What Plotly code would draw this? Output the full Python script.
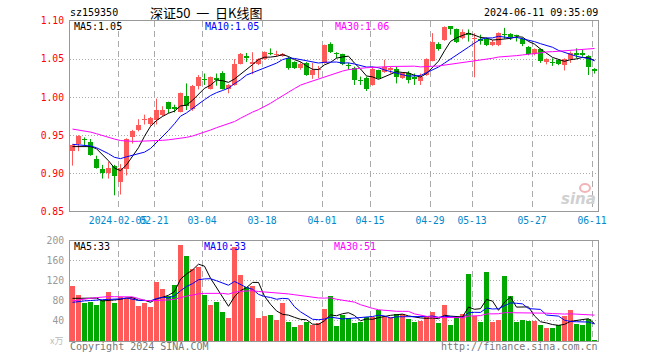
import numpy as np
import plotly.graph_objects as go

# ---------------- data ----------------
dates = (
    ["2024-01-24", "2024-01-25", "2024-01-26", "2024-01-29", "2024-01-30", "2024-01-31"]
    + ["2024-02-01", "2024-02-02", "2024-02-05", "2024-02-06", "2024-02-07", "2024-02-08",
       "2024-02-19", "2024-02-20", "2024-02-21", "2024-02-22", "2024-02-23", "2024-02-26",
       "2024-02-27", "2024-02-28", "2024-02-29"]
    + ["2024-03-01", "2024-03-04", "2024-03-05", "2024-03-06", "2024-03-07", "2024-03-08",
       "2024-03-11", "2024-03-12", "2024-03-13", "2024-03-14", "2024-03-15", "2024-03-18",
       "2024-03-19", "2024-03-20", "2024-03-21", "2024-03-22", "2024-03-25", "2024-03-26",
       "2024-03-27", "2024-03-28", "2024-03-29"]
    + ["2024-04-01", "2024-04-02", "2024-04-03", "2024-04-08", "2024-04-09", "2024-04-10",
       "2024-04-11", "2024-04-12", "2024-04-15", "2024-04-16", "2024-04-17", "2024-04-18",
       "2024-04-19", "2024-04-22", "2024-04-23", "2024-04-24", "2024-04-25", "2024-04-26",
       "2024-04-29", "2024-04-30"]
    + ["2024-05-06", "2024-05-07", "2024-05-08", "2024-05-09", "2024-05-10", "2024-05-13",
       "2024-05-14", "2024-05-15", "2024-05-16", "2024-05-17", "2024-05-20", "2024-05-21",
       "2024-05-22", "2024-05-23", "2024-05-24", "2024-05-27", "2024-05-28", "2024-05-29",
       "2024-05-30", "2024-05-31"]
    + ["2024-06-03", "2024-06-04", "2024-06-05", "2024-06-06", "2024-06-07", "2024-06-11"]
)

tick_dates = ["2024-02-05", "2024-02-21", "2024-03-04", "2024-03-18", "2024-04-01",
              "2024-04-15", "2024-04-29", "2024-05-13", "2024-05-27", "2024-06-11"]
tick_labels = ["2024-02-05", "02-21", "03-04", "03-18", "04-01",
               "04-15", "04-29", "05-13", "05-27", "06-11"]

open_ = [0.929, 0.939, 0.945, 0.941, 0.919, 0.906, 0.900, 0.910, 0.888, 0.905,
         0.947, 0.957, 0.970, 0.965, 0.970, 0.977, 0.994, 0.986, 0.981, 1.002,
         0.984, 1.015, 1.023, 1.011, 1.025, 1.032, 1.011, 1.016, 1.044, 1.054,
         1.043, 1.044, 1.050, 1.058, 1.055, 1.054, 1.051, 1.046, 1.038, 1.045,
         1.029, 1.035, 1.045, 1.070, 1.058, 1.056, 1.042, 1.038, 1.022, 1.025,
         1.016, 1.035, 1.033, 1.035, 1.037, 1.025, 1.032, 1.027, 1.021, 1.029,
         1.048, 1.070, 1.075, 1.093, 1.089, 1.078, 1.084, 1.076, 1.076, 1.077,
         1.069, 1.068, 1.083, 1.083, 1.081, 1.077, 1.066, 1.056, 1.063, 1.046,
         1.046, 1.049, 1.042, 1.050, 1.058, 1.058, 1.054, 1.037]
high = [0.938, 0.950, 0.947, 0.945, 0.923, 0.911, 0.915, 0.911, 0.912, 0.946,
        0.957, 0.971, 0.977, 0.974, 0.998, 0.988, 0.994, 0.990, 1.006, 1.018,
        1.016, 1.029, 1.031, 1.027, 1.031, 1.034, 1.017, 1.050, 1.058, 1.058,
        1.059, 1.051, 1.060, 1.064, 1.061, 1.058, 1.053, 1.047, 1.046, 1.046,
        1.045, 1.041, 1.069, 1.072, 1.059, 1.057, 1.045, 1.040, 1.027, 1.027,
        1.040, 1.036, 1.049, 1.040, 1.040, 1.033, 1.034, 1.031, 1.031, 1.051,
        1.084, 1.072, 1.093, 1.093, 1.090, 1.089, 1.089, 1.084, 1.082, 1.078,
        1.075, 1.085, 1.091, 1.084, 1.082, 1.078, 1.067, 1.064, 1.064, 1.051,
        1.051, 1.050, 1.051, 1.060, 1.064, 1.063, 1.055, 1.038]
low = [0.910, 0.929, 0.937, 0.923, 0.906, 0.893, 0.893, 0.871, 0.872, 0.897,
       0.939, 0.955, 0.964, 0.962, 0.964, 0.975, 0.979, 0.980, 0.980, 0.983,
       0.982, 1.010, 1.016, 1.010, 1.015, 1.010, 1.005, 1.015, 1.043, 1.046,
       1.030, 1.042, 1.049, 1.055, 1.053, 1.053, 1.036, 1.037, 1.036, 1.028,
       1.024, 1.025, 1.044, 1.058, 1.051, 1.042, 1.036, 1.016, 1.016, 1.008,
       1.015, 1.024, 1.032, 1.031, 1.018, 1.024, 1.018, 1.016, 1.016, 1.028,
       1.047, 1.061, 1.074, 1.082, 1.071, 1.076, 1.073, 1.026, 1.069, 1.067,
       1.067, 1.067, 1.077, 1.075, 1.073, 1.067, 1.055, 1.055, 1.045, 1.043,
       1.041, 1.042, 1.035, 1.045, 1.051, 1.053, 1.029, 1.031]
close = [0.937, 0.949, 0.944, 0.924, 0.907, 0.900, 0.907, 0.896, 0.907, 0.945,
         0.956, 0.964, 0.971, 0.972, 0.983, 0.983, 0.985, 0.985, 1.006, 0.988,
         1.015, 1.027, 1.022, 1.026, 1.022, 1.011, 1.016, 1.044, 1.056, 1.051,
         1.046, 1.050, 1.059, 1.057, 1.056, 1.057, 1.038, 1.038, 1.043, 1.029,
         1.035, 1.036, 1.069, 1.059, 1.057, 1.043, 1.041, 1.023, 1.021, 1.011,
         1.037, 1.025, 1.040, 1.038, 1.027, 1.032, 1.022, 1.024, 1.027, 1.050,
         1.072, 1.063, 1.092, 1.089, 1.073, 1.086, 1.081, 1.078, 1.074, 1.069,
         1.073, 1.084, 1.081, 1.079, 1.080, 1.070, 1.056, 1.063, 1.047, 1.050,
         1.045, 1.043, 1.050, 1.058, 1.055, 1.055, 1.040, 1.034]
volume = [110, 92, 76, 78, 72, 81, 98, 76, 88, 86,
          86, 70, 76, 68, 118, 104, 90, 112, 192, 170,
          144, 148, 92, 72, 78, 58, 46, 188, 132, 108,
          110, 46, 50, 52, 42, 76, 38, 28, 32, 38,
          32, 36, 64, 90, 30, 52, 46, 36, 38, 48,
          48, 62, 50, 48, 54, 54, 44, 38, 40, 50,
          58, 36, 72, 32, 46, 54, 134, 50, 38, 138,
          38, 42, 130, 90, 38, 42, 40, 40, 32, 26,
          26, 32, 50, 62, 34, 32, 44, 2]

# sessions before the window (estimated from where the MA lines start)
prior_close = [0.982, 0.978, 0.975, 0.972, 0.976, 0.970, 0.968, 0.965, 0.969, 0.964,
               0.961, 0.966, 0.964, 0.968, 0.972, 0.965, 0.962, 0.958, 0.963, 0.962,
               0.955, 0.948, 0.936, 0.930, 0.936, 0.949, 0.944, 0.924, 0.921]
prior_volume = [28, 30, 32, 34, 35, 80, 86, 90, 88, 90,
                170, 186, 92, 85, 88, 85, 80, 86, 82, 83,
                72, 66, 71, 70, 66, 92, 76, 78, 69]

price_ticks = [0.85, 0.90, 0.95, 1.00, 1.05, 1.10]
vol_ticks = [40, 80, 120, 160, 200]

price_ma_labels = ["MA5:1.05", "MA10:1.05", "MA30:1.06"]
vol_ma_labels = ["MA5:33", "MA10:33", "MA30:51"]

# ---------------- helpers ----------------
def moving_average(prior, vals, n):
    full = np.array(prior + vals, dtype=float)
    start = len(prior)
    return [float(full[k - n + 1:k + 1].mean()) for k in range(start, len(full))]

n = len(dates)
xs = list(range(n))
RED = "#ff5a5a"
GREEN = "#00a800"
MA_COLORS = ["#000000", "#0000ff", "#ff00ff"]
MA_N = [5, 10, 30]
MONO = "DejaVu Sans Mono"

# pixel geometry
L_PX, R_PX, T_PX, B_PX = 70, 598, 21, 341
def px_x(p):
    return (p - L_PX) / (R_PX - L_PX)
def px_y(p):
    return (B_PX - p) / (B_PX - T_PX)

price_dom = [px_y(211.3), 1.0]
vol_dom = [0.0, px_y(240.7)]

tick_pos = [dates.index(d) - 5 / 12 for d in tick_dates]
xrange = [-5 / 12, n - 1 + 7 / 12]

fig = go.Figure()

up = [c >= o for o, c in zip(open_, close)]
colors = [RED if u else GREEN for u in up]

# wicks (one line trace per colour, segments separated by None)
for want, col in [(True, RED), (False, GREEN)]:
    wx, wy = [], []
    for i in range(n):
        if up[i] == want:
            wx += [xs[i], xs[i], None]
            wy += [low[i], high[i], None]
    fig.add_trace(go.Scatter(x=wx, y=wy, mode="lines", line=dict(color=col, width=1),
                             xaxis="x", yaxis="y", hoverinfo="skip"))

# candle bodies
body_base = [min(o, c) for o, c in zip(open_, close)]
body_h = [max(abs(c - o), 0.0014) for o, c in zip(open_, close)]
fig.add_trace(go.Bar(x=xs, y=body_h, base=body_base, width=5 / 6,
                     marker=dict(color=colors, line=dict(width=0)),
                     xaxis="x", yaxis="y", hoverinfo="skip"))

for k, c in zip(MA_N, MA_COLORS):
    fig.add_trace(go.Scatter(x=xs, y=moving_average(prior_close, close, k), mode="lines",
                             line=dict(color=c, width=1), xaxis="x", yaxis="y",
                             hoverinfo="skip"))

fig.add_trace(go.Bar(x=xs, y=volume, marker=dict(color=colors, line=dict(width=0)),
                     width=5 / 6, xaxis="x2", yaxis="y2", hoverinfo="skip"))
for k, c in zip(MA_N, MA_COLORS):
    fig.add_trace(go.Scatter(x=xs, y=moving_average(prior_volume, volume, k), mode="lines",
                             line=dict(color=c, width=1), xaxis="x2", yaxis="y2",
                             hoverinfo="skip"))

GRID = "#aaaaaa"
BORDER = "#999999"
common_x = dict(range=xrange, tickvals=tick_pos, showgrid=True, gridcolor=GRID, gridwidth=1,
                griddash="6px,4px", showline=True, linecolor=BORDER, linewidth=1, mirror=True,
                ticks="", zeroline=False, tickangle=0, fixedrange=True, automargin=False)
common_y = dict(showgrid=True, gridcolor=GRID, griddash="1px,2px", showline=True,
                linecolor=BORDER, mirror=True, ticks="", zeroline=False,
                ticklabelstandoff=3, fixedrange=True, automargin=False)
fig.update_layout(
    width=660, height=360,
    margin=dict(l=L_PX, r=660 - R_PX, t=T_PX, b=360 - B_PX, autoexpand=False),
    paper_bgcolor="white", plot_bgcolor="white",
    showlegend=False, barmode="overlay", bargap=0,
    xaxis=dict(**common_x, anchor="y", ticktext=tick_labels,
               tickfont=dict(family=MONO, size=9.7, color="#0088cc")),
    xaxis2=dict(**common_x, anchor="y2", matches="x", showticklabels=False),
    yaxis=dict(**common_y, domain=price_dom, range=[0.85, 1.10], tickvals=price_ticks,
               ticktext=["%.2f" % v for v in price_ticks],
               tickfont=dict(family=MONO, size=9.7, color="#ff0000")),
    yaxis2=dict(**common_y, domain=vol_dom, range=[0, 200], tickvals=vol_ticks,
                ticktext=[str(v) for v in vol_ticks],
                tickfont=dict(family=MONO, size=9.7, color="#999999")),
)

def note(text, x_px, y_px, anchor="left", size=10, color="#000000", family=MONO):
    fig.add_annotation(text=text, x=px_x(x_px), y=px_y(y_px), xref="paper", yref="paper",
                       xanchor=anchor, yanchor="middle", showarrow=False, borderpad=0,
                       font=dict(family=family, size=size, color=color))

NB = "\u00a0"
note("sz159350", 69, 12.5)
note("深证50" + NB * 2 + "一" + NB * 2 + "日K线图", 149, 12.5, size=13,
     family="Noto Sans CJK SC")
note("2024-06-11 09:35:09", 599, 12.5, anchor="right")

for txt, xp, c in zip(price_ma_labels, [73, 204, 334], MA_COLORS):
    note(txt, xp, 26.5, color=c)
for txt, xp, c in zip(vol_ma_labels, [73, 203, 333], MA_COLORS):
    note(txt, xp, 246, color=c)

note("x万", 64, 340.5, anchor="right", size=9, color="#bbbbbb", family="Noto Sans CJK SC")
note("Copyright 2024 SINA.COM", 69, 346.5, color="#777777")
note("http://finance.sina.com.cn", 599, 346.5, anchor="right", color="#777777")
note("<b><i>sina</i></b>", 597, 199, anchor="right", size=15, color="#d0d0d0",
     family="DejaVu Sans")
fig.add_shape(type="circle", xref="paper", yref="paper",
              x0=px_x(580), x1=px_x(590), y0=px_y(192), y1=px_y(184),
              line=dict(color="#f2b4b4", width=2))

fig.write_html("out.html", config={"displayModeBar": False, "staticPlot": True},
               post_script="document.body.style.margin='0px';")
